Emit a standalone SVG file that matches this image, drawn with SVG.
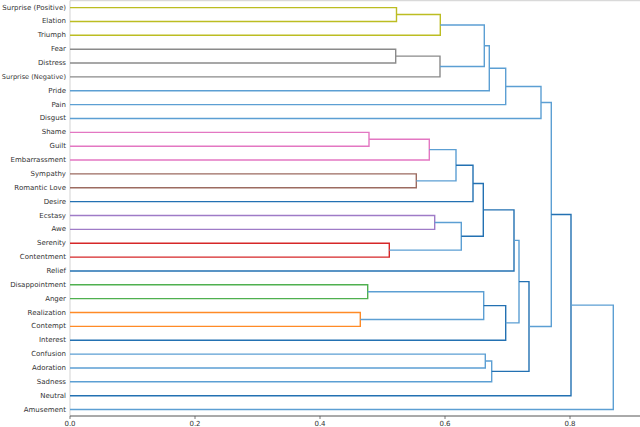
<svg xmlns="http://www.w3.org/2000/svg" width="640" height="427" viewBox="0 0 640 427">
<style>
.lbl{font-family:"DejaVu Sans",sans-serif;font-size:7px;fill:#333;text-anchor:end;dominant-baseline:central}
.tick{font-family:"DejaVu Sans",sans-serif;font-size:7px;fill:#333;text-anchor:middle}
.l{fill:none;stroke-width:1.4}
.y{stroke:#bcbd22}.g{stroke:#8a8a8a}.p{stroke:#e377c2}.br{stroke:#9c6b60}.pu{stroke:#9f7bc7}.r{stroke:#d62728}.gr{stroke:#4fb04f}.o{stroke:#ff8a26}
.b{stroke:#5c9fd3}.bd{stroke:#2371b2}
</style>
<rect width="640" height="427" fill="#fff"/>
<g id="frame">
<line x1="70" y1="0.7" x2="640" y2="0.7" stroke="#d0d0d0" stroke-width="1"/>
<line x1="70" y1="0.7" x2="70" y2="416" stroke="#c8c8c8" stroke-width="0.8"/>
<line x1="70" y1="416" x2="640" y2="416" stroke="#555" stroke-width="1"/>
<g stroke="#555" stroke-width="0.8">
<line x1="70" y1="416" x2="70" y2="419"/><line x1="195" y1="416" x2="195" y2="419"/><line x1="320" y1="416" x2="320" y2="419"/><line x1="445" y1="416" x2="445" y2="419"/><line x1="570" y1="416" x2="570" y2="419"/>
</g>
<text class="tick" x="70" y="426">0.0</text>
<text class="tick" x="195" y="426">0.2</text>
<text class="tick" x="320" y="426">0.4</text>
<text class="tick" x="445" y="426">0.6</text>
<text class="tick" x="570" y="426">0.8</text>
</g>
<g id="connectors">
<path class="l y" d="M70 7.6 H396.5 V21.46 H70"/>
<path class="l y" d="M396.5 14.53 H440.3 V35.32 H70"/>
<path class="l g" d="M70 49.18 H395.7 V63.04 H70"/>
<path class="l g" d="M395.7 56.11 H440 V76.9 H70"/>
<path class="l b" d="M440.3 24.93 H484.3 V66.5 H440"/>
<path class="l b" d="M484.3 45.7 H489.3 V90.76 H70"/>
<path class="l b" d="M489.3 68.23 H505.7 V104.62 H70"/>
<path class="l b" d="M505.7 86.43 H541 V118.48 H70"/>
<path class="l p" d="M70 132.34 H369 V146.2 H70"/>
<path class="l p" d="M369 139.27 H429.3 V160.06 H70"/>
<path class="l br" d="M70 173.92 H416.3 V187.78 H70"/>
<path class="l b" d="M429.3 149.67 H456 V180.85 H416.3"/>
<path class="l bd" d="M456 165.26 H473 V201.64 H70"/>
<path class="l pu" d="M70 215.5 H434.7 V229.36 H70"/>
<path class="l r" d="M70 243.22 H389.3 V257.08 H70"/>
<path class="l b" d="M434.7 222.43 H461.3 V250.15 H389.3"/>
<path class="l bd" d="M473 183.45 H483.3 V236.29 H461.3"/>
<path class="l bd" d="M483.3 209.87 H514 V270.94 H70"/>
<path class="l gr" d="M70 284.8 H367.7 V298.66 H70"/>
<path class="l o" d="M70 312.52 H360.3 V326.38 H70"/>
<path class="l b" d="M367.7 291.73 H483.7 V319.45 H360.3"/>
<path class="l bd" d="M483.7 305.59 H505.7 V340.24 H70"/>
<path class="l b" d="M514 240.4 H519 V322.9 H505.7"/>
<path class="l b" d="M70 354.1 H485.3 V367.96 H70"/>
<path class="l b" d="M485.3 361.03 H491.7 V381.82 H70"/>
<path class="l bd" d="M519 281.65 H529 V371.4 H491.7"/>
<path class="l b" d="M541 102.45 H551.3 V326.5 H529"/>
<path class="l bd" d="M551.3 214.5 H571 V395.68 H70"/>
<path class="l b" d="M571 305.1 H613.3 V409.54 H70"/>
</g>
<g id="leaf-surprise-positive"><text class="lbl" x="66" y="7.6">Surprise (Positive)</text></g>
<g id="leaf-elation"><text class="lbl" x="66" y="21.46">Elation</text></g>
<g id="leaf-triumph"><text class="lbl" x="66" y="35.32">Triumph</text></g>
<g id="leaf-fear"><text class="lbl" x="66" y="49.18">Fear</text></g>
<g id="leaf-distress"><text class="lbl" x="66" y="63.04">Distress</text></g>
<g id="leaf-surprise-negative"><text class="lbl" x="66" y="76.9" style="font-size:6.6px">Surprise (Negative)</text></g>
<g id="leaf-pride"><text class="lbl" x="66" y="90.76">Pride</text></g>
<g id="leaf-pain"><text class="lbl" x="66" y="104.62">Pain</text></g>
<g id="leaf-disgust"><text class="lbl" x="66" y="118.48">Disgust</text></g>
<g id="leaf-shame"><text class="lbl" x="66" y="132.34">Shame</text></g>
<g id="leaf-guilt"><text class="lbl" x="66" y="146.2">Guilt</text></g>
<g id="leaf-embarrassment"><text class="lbl" x="66" y="160.06">Embarrassment</text></g>
<g id="leaf-sympathy"><text class="lbl" x="66" y="173.92">Sympathy</text></g>
<g id="leaf-romantic-love"><text class="lbl" x="66" y="187.78">Romantic Love</text></g>
<g id="leaf-desire"><text class="lbl" x="66" y="201.64">Desire</text></g>
<g id="leaf-ecstasy"><text class="lbl" x="66" y="215.5">Ecstasy</text></g>
<g id="leaf-awe"><text class="lbl" x="66" y="229.36">Awe</text></g>
<g id="leaf-serenity"><text class="lbl" x="66" y="243.22">Serenity</text></g>
<g id="leaf-contentment"><text class="lbl" x="66" y="257.08">Contentment</text></g>
<g id="leaf-relief"><text class="lbl" x="66" y="270.94">Relief</text></g>
<g id="leaf-disappointment"><text class="lbl" x="66" y="284.8">Disappointment</text></g>
<g id="leaf-anger"><text class="lbl" x="66" y="298.66">Anger</text></g>
<g id="leaf-realization"><text class="lbl" x="66" y="312.52">Realization</text></g>
<g id="leaf-contempt"><text class="lbl" x="66" y="326.38">Contempt</text></g>
<g id="leaf-interest"><text class="lbl" x="66" y="340.24">Interest</text></g>
<g id="leaf-confusion"><text class="lbl" x="66" y="354.1">Confusion</text></g>
<g id="leaf-adoration"><text class="lbl" x="66" y="367.96">Adoration</text></g>
<g id="leaf-sadness"><text class="lbl" x="66" y="381.82">Sadness</text></g>
<g id="leaf-neutral"><text class="lbl" x="66" y="395.68">Neutral</text></g>
<g id="leaf-amusement"><text class="lbl" x="66" y="409.54">Amusement</text></g>
</svg>
